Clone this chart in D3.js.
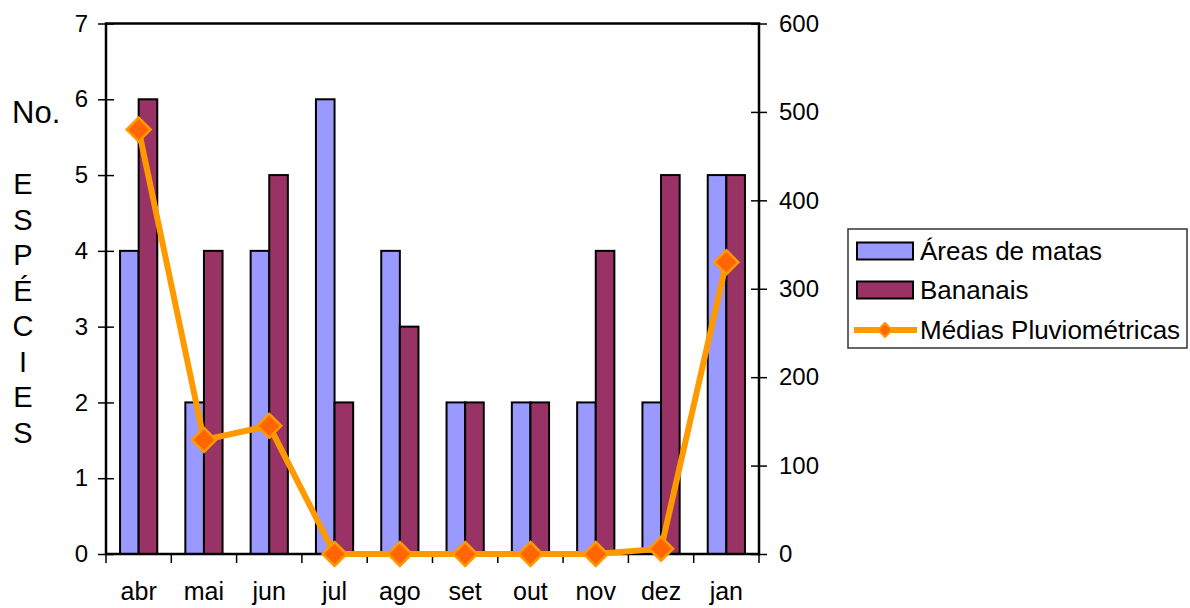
<!DOCTYPE html>
<html><head><meta charset="utf-8">
<script src="https://cdn.jsdelivr.net/npm/d3@7"></script>
<style>body{margin:0;background:#fff}svg{display:block;font-family:"Liberation Sans",Arial,sans-serif}</style>
</head><body>
<svg id="c" width="1190" height="608"></svg>
<script>
const months = ["abr","mai","jun","jul","ago","set","out","nov","dez","jan"];
const matas = [4,2,4,6,4,2,2,2,2,5];
const bananais = [6,4,5,2,3,2,2,4,5,5];
const chuva = [480,129,145,0,0,0,0,0,6,330];
const leftTicks = [0,1,2,3,4,5,6,7];
const rightTicks = [0,100,200,300,400,500,600];
const seriesNames = ["Áreas de matas","Bananais","Médias Pluviométricas"];
const colors = ["#9999FF","#993366","#FF9900"];

const svg = d3.select("#c");
const L=106,R=759,T=23.5,B=554;
const x = d3.scaleBand().domain(months).range([L,R]).padding(0);
const bw = x.bandwidth();
const xi = d3.scaleBand().domain([0,1]).range([bw*0.215,bw*0.785]).padding(0);
const yL = d3.scaleLinear().domain([0,7]).range([B,T]);
const yR = d3.scaleLinear().domain([0,600]).range([B,T]);

// bars
[matas,bananais].forEach((arr,si)=>{
  svg.append("g").selectAll("rect").data(arr).join("rect")
    .attr("x",(d,i)=>x(months[i])+xi(si))
    .attr("y",d=>yL(d))
    .attr("width",xi.bandwidth())
    .attr("height",d=>B-yL(d))
    .attr("fill",colors[si]).attr("stroke","#000").attr("stroke-width",2);
});

// frame
svg.append("rect").attr("x",L).attr("y",T).attr("width",R-L).attr("height",B-T)
  .attr("fill","none").attr("stroke","#000").attr("stroke-width",2.5);

// left axis
const gl = svg.append("g").attr("transform",`translate(${L},0)`)
  .call(d3.axisLeft(yL).tickValues(leftTicks).tickSize(8).tickPadding(10).tickFormat(d3.format("d")));
gl.select(".domain").remove();
gl.selectAll("line").attr("x1",8).attr("stroke","#000").attr("stroke-width",1.5);
gl.selectAll("text").attr("font-size",24).attr("fill","#000").attr("font-family","Liberation Sans, Arial, sans-serif");

// right axis
const gr = svg.append("g").attr("transform",`translate(${R},0)`)
  .call(d3.axisRight(yR).tickValues(rightTicks).tickSize(8).tickPadding(12).tickFormat(d3.format("d")));
gr.select(".domain").remove();
gr.selectAll("line").attr("x1",-8).attr("stroke","#000").attr("stroke-width",1.5);
gr.selectAll("text").attr("font-size",24).attr("fill","#000").attr("font-family","Liberation Sans, Arial, sans-serif");

// bottom axis: boundary ticks + labels
const boundaries = months.map(m=>x(m)).concat([R]);
svg.append("g").selectAll("line").data(boundaries).join("line")
  .attr("x1",d=>d).attr("x2",d=>d).attr("y1",B).attr("y2",B+9)
  .attr("stroke","#000").attr("stroke-width",1.5);
svg.append("g").selectAll("text").data(months).join("text")
  .attr("x",d=>x(d)+bw/2).attr("y",B+46).attr("text-anchor","middle")
  .attr("font-size",25).text(d=>d);

// line
const line = d3.line().x((d,i)=>x(months[i])+bw/2).y(d=>yR(d));
svg.append("path").datum(chuva).attr("d",line).attr("fill","none")
  .attr("stroke",colors[2]).attr("stroke-width",6).attr("stroke-linejoin","miter");
const diamond = "M0,-12L12,0L0,12L-12,0Z";
svg.append("g").selectAll("path").data(chuva).join("path")
  .attr("transform",(d,i)=>`translate(${x(months[i])+bw/2},${yR(d)})`)
  .attr("d",diamond).attr("fill","#FF6600").attr("stroke","#FF9900").attr("stroke-width",2.5);

// y title
svg.append("text").attr("x",12).attr("y",123).attr("font-size",31).text("No.");
const letters = ["E","S","P","É","C","I","E","S"];
svg.append("g").selectAll("text").data(letters).join("text")
  .attr("x",23).attr("y",(d,i)=>194+i*35.5).attr("text-anchor","middle")
  .attr("font-size",29).text(d=>d);

// legend
const lg = svg.append("g");
lg.append("rect").attr("x",848).attr("y",229).attr("width",339).attr("height",119)
  .attr("fill","#fff").attr("stroke","#333").attr("stroke-width",1.5);
const rowsY=[251,290,330];
[0,1].forEach(i=>{
  lg.append("rect").attr("x",857).attr("y",rowsY[i]-8.5).attr("width",56).attr("height",17)
    .attr("fill",colors[i]).attr("stroke","#000").attr("stroke-width",2);
});
lg.append("line").attr("x1",854).attr("x2",917).attr("y1",rowsY[2]).attr("y2",rowsY[2])
  .attr("stroke",colors[2]).attr("stroke-width",6);
lg.append("path").attr("transform",`translate(885,${rowsY[2]})`).attr("d","M0,-7L7,0L0,7L-7,0Z")
  .attr("fill","#FF6600").attr("stroke","#FF9900").attr("stroke-width",2);
seriesNames.forEach((n,i)=>{
  lg.append("text").attr("x",920).attr("y",rowsY[i]+9).attr("font-size",26).text(n);
});
</script>
</body></html>
